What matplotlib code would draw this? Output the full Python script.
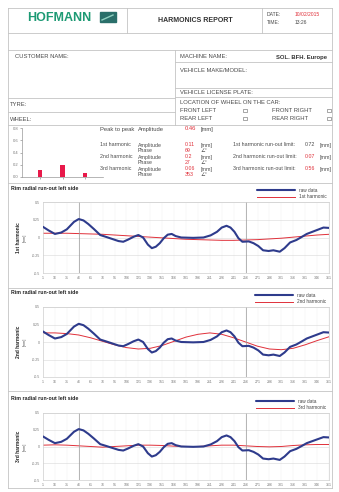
import matplotlib
matplotlib.use('Agg')
import matplotlib.pyplot as plt
from matplotlib.lines import Line2D
from matplotlib.patches import Rectangle

W, H = 339, 492
plt.rcParams['font.family'] = ['Liberation Sans', 'DejaVu Sans']

# raw radial run-out (angle in degrees, value in mm)
raw_angle = [1, 8, 16, 24, 31, 40, 46, 52, 58, 65, 73, 80, 88, 96, 102,
             108, 115, 121, 127, 133, 138, 143, 148, 153, 158, 163, 168,
             175, 190, 203, 212, 220, 226, 232, 237, 242, 247, 252, 260,
             266, 272, 278, 285, 291, 299, 305, 312, 320, 327, 333, 340,
             347, 354, 361]
raw_runout = [0.15, 0.1, 0.05, 0.07, 0.115, 0.22, 0.26, 0.24, 0.19, 0.12,
              0.035, 0.01, -0.02, -0.05, -0.06, -0.03, 0.01, 0.035, 0.0,
              -0.1, -0.15, -0.13, -0.08, -0.01, 0.04, 0.05, 0.02, 0.0,
              -0.005, 0.0, 0.03, 0.08, 0.14, 0.165, 0.14, 0.08, -0.01,
              -0.06, -0.055, -0.08, -0.12, -0.18, -0.19, -0.18, -0.2,
              -0.15, -0.07, -0.035, 0.01, 0.05, 0.08, 0.11, 0.14, 0.135]

# harmonic curves sampled at the x ticks
tick_angles = list(range(1, 362, 15))
harmonic_1 = [0.06, 0.06, 0.06, 0.055, 0.05, 0.045, 0.035, 0.025, 0.015,
              0.005, -0.005, -0.015, -0.025, -0.03, -0.035, -0.04, -0.04,
              -0.035, -0.03, -0.02, -0.01, 0.005, 0.02, 0.035, 0.045]
harmonic_2 = [0.13, 0.13, 0.12, 0.1, 0.06, 0.01, -0.04, -0.08, -0.1, -0.09,
              -0.05, 0.01, 0.07, 0.11, 0.13, 0.11, 0.06, 0.0, -0.06, -0.1,
              -0.11, -0.09, -0.04, 0.02, 0.075]
harmonic_3 = [0.02, 0.025, 0.02, 0.01, 0.0, -0.01, 0.0, 0.01, 0.02, 0.02,
              0.015, 0.005, 0.0, 0.0, 0.01, 0.02, 0.02, 0.01, 0.0, -0.005,
              0.0, 0.015, 0.025, 0.03, 0.03]
harmonic_names = ['1st harmonic', '2nd harmonic', '3rd harmonic']
harmonic_curves = [harmonic_1, harmonic_2, harmonic_3]
marker_angles = [[46, 256], [256], [46, 256]]
y_ticks = [-0.5, -0.25, 0, 0.25, 0.5]

# summary table
bar_labels = ['1st', '2nd', '3rd']
bar_amplitude = [0.11, 0.2, 0.06]
phase = ['69', '27', '353']
limits = ['0.72', '0.07', '0.56']
peak_to_peak = '0.46'

GREY = '#4a4a4a'
RULE = '#c4c4c4'
RED = '#e0303a'
BLUE = '#2e3b8c'

fig = plt.figure(figsize=(W / 100, H / 100), dpi=100)


def fx(x):
    return x / W


def fy(y):
    return 1 - y / H


def label(x, y, s, size=4.2, color=GREY, **kw):
    kw.setdefault('va', 'center')
    fig.text(fx(x), fy(y), s, fontsize=size, color=color, **kw)


def rule(x0, y0, x1, y1, color=RULE, lw=0.6):
    fig.add_artist(Line2D([fx(x0), fx(x1)], [fy(y0), fy(y1)],
                          color=color, lw=lw))


def checkbox(x, y):
    fig.add_artist(Rectangle((fx(x), fy(y + 2)), 3.5 / W, 3.5 / H,
                             fill=False, ec='#666', lw=0.4))


# page frame
rule(8, 8, 332, 8)
rule(8, 488, 332, 488)
rule(8, 8, 8, 488)
rule(332, 8, 332, 488)
for y in [33, 50, 125, 183, 288, 391]:
    rule(8, y, 332, y)
rule(127, 8, 127, 33)
rule(262, 8, 262, 33)
rule(175, 50, 175, 125)
for y in [98, 112]:
    rule(8, y, 175, y)
for y in [62, 88, 97]:
    rule(175, y, 332, y)

# header
label(27, 18, 'HOFMANN', size=9, color='#1d9a74', weight='bold')
fig.add_artist(Rectangle((fx(100), fy(22)), 16 / W, 10 / H,
                         color='#2a6f6a'))
fig.add_artist(Line2D([fx(102), fx(113)], [fy(20), fy(15)],
                      color='#8fd0c0', lw=1.0))
label(195, 20, 'HARMONICS REPORT', size=5, color='#333', weight='bold',
      ha='center')
label(267, 15, 'DATE:', size=3.6)
label(267, 22, 'TIME:', size=3.6)
label(295, 15, '10/02/2015', size=3.6, color=RED)
label(295, 22, '13:26', size=3.6)

# customer and vehicle block
label(15, 57, 'CUSTOMER NAME:')
label(180, 57, 'MACHINE NAME:')
label(276, 57, 'SOL. BFH. Europe', weight='bold', color='#333')
label(180, 70, 'VEHICLE MAKE/MODEL:')
label(180, 93, 'VEHICLE LICENSE PLATE:')
label(10, 105, 'TYRE:')
label(10, 119, 'WHEEL:')
label(180, 103, 'LOCATION OF WHEEL ON THE CAR:')
label(180, 110, 'FRONT LEFT')
label(272, 110, 'FRONT RIGHT')
label(180, 118, 'REAR LEFT')
label(272, 118, 'REAR RIGHT')
for x in [243, 327]:
    for y in [110, 118]:
        checkbox(x, y)

# harmonic amplitude bars
bx = fig.add_axes([fx(22), fy(177), 81 / W, 49 / H])
bx.bar(bar_labels, bar_amplitude, width=0.18, color='#e8194a')
bx.set_ylim(0, 0.8)
bx.set_xlim(-0.8, 2.8)
bx.set_yticks([0, 0.2, 0.4, 0.6, 0.8])
bx.tick_params(labelsize=3, colors='#777', length=1.5, width=0.4, pad=1)
bx.set_xticklabels([])
for side in ['top', 'right']:
    bx.spines[side].set_visible(False)
for side in ['left', 'bottom']:
    bx.spines[side].set_color('#999')
    bx.spines[side].set_linewidth(0.5)

# summary table
size = 3.8
label(100, 129, 'Peak to peak')
label(138, 129, 'Amplitude')
label(185, 129, peak_to_peak, color=RED)
label(201, 129, '[mm]')
for i, name in enumerate(harmonic_names):
    y = 145 + 12 * i
    label(100, y, name, size=size)
    label(138, y, 'Amplitude', size=size)
    label(138, y + 5, 'Phase', size=size)
    label(185, y, f'{bar_amplitude[i]:g}', size=size, color=RED)
    label(185, y + 5, phase[i], size=size, color=RED)
    label(201, y, '[mm]', size=size)
    label(201, y + 5, '∠°', size=size)
    label(233, y, f'{name} run-out limit:', size=size)
    label(305, y, limits[i], size=size, color=RED if i else GREY)
    label(320, y, '[mm]', size=size)

# run-out charts
chart_tops = [202, 307, 413]
chart_heights = [71, 70, 67]
for i, top in enumerate(chart_tops):
    ax = fig.add_axes([fx(43), fy(top + chart_heights[i]), 286 / W,
                       chart_heights[i] / H])
    ax.plot(raw_angle, raw_runout, color=BLUE, lw=1.5, label='raw data',
            solid_joinstyle='round', solid_capstyle='round', zorder=3)
    ax.plot(tick_angles, harmonic_curves[i], color=RED, lw=0.7,
            label=harmonic_names[i], zorder=2)
    for a in marker_angles[i]:
        ax.axvline(a, color='#999', lw=0.5)
    ax.set_xlim(1, 361)
    ax.set_ylim(-0.5, 0.5)
    ax.set_xticks(tick_angles)
    ax.set_yticks(y_ticks)
    ax.set_yticklabels(['-0.5', '-0.25', '0', '0.25', '0.5'])
    ax.grid(axis='y', color='#d8d8d8', lw=0.4)
    ax.grid(axis='x', color='#f0f0f0', lw=0.3)
    ax.tick_params(labelsize=2.6, colors='#777', length=0, pad=2)
    for s in ax.spines.values():
        s.set_color('#cfcfcf')
        s.set_linewidth(0.5)
    ax.legend(loc='lower right', bbox_to_anchor=(1.0, 1.0), frameon=False,
              fontsize=3.4, handlelength=8, labelspacing=0.3,
              borderaxespad=0.2, labelcolor='#444')
    label(11, top - 14, 'Rim radial run-out left side', size=3.8,
          color='#222', weight='bold')
    mid = top + chart_heights[i] / 2
    label(18, mid, harmonic_names[i], size=3.5, color='#222',
          weight='bold', rotation=90, ha='center')
    label(25, mid, '[mm]', size=2.6, rotation=90, ha='center')

fig.savefig('out.png', dpi=100, facecolor='white')
